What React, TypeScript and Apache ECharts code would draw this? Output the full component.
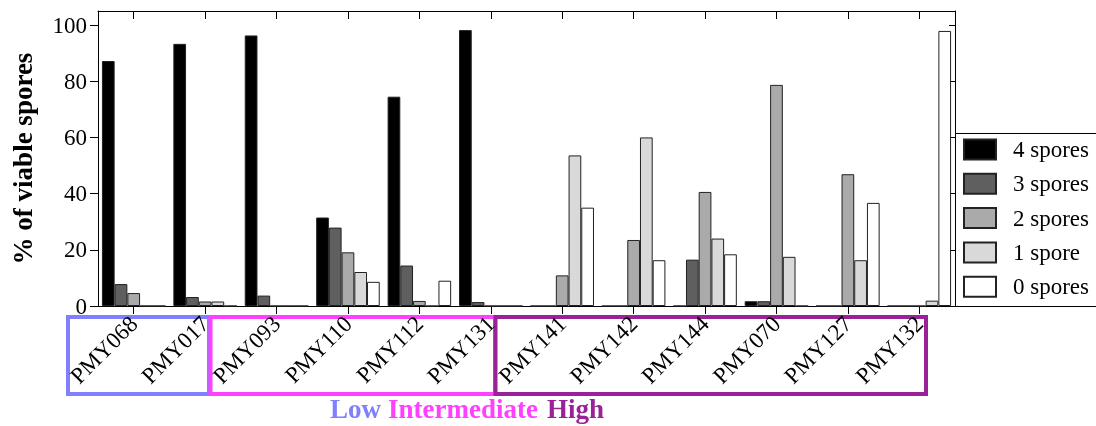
import React, { useEffect, useRef } from 'react';
import * as echarts from 'echarts';

const categories = ['PMY068', 'PMY017', 'PMY093', 'PMY110', 'PMY112', 'PMY131', 'PMY141', 'PMY142', 'PMY144', 'PMY070', 'PMY127', 'PMY132'];
const seriesNames = ['4 spores', '3 spores', '2 spores', '1 spore', '0 spores'];
const fourSpores = [87.2, 93.3, 96.3, 31.5, 74.5, 98.2, 0, 0, 0, 1.7, 0, 0];
const threeSpores = [7.8, 3.2, 3.7, 27.9, 14.4, 1.4, 0, 0, 16.5, 1.7, 0, 0];
const twoSpores = [4.6, 1.6, 0, 19.1, 1.8, 0, 10.9, 23.5, 40.6, 78.7, 46.9, 0];
const oneSpore = [0, 1.6, 0, 12.1, 0, 0, 53.6, 60.0, 24.0, 17.5, 16.3, 1.9];
const zeroSpores = [0, 0, 0, 8.6, 9.0, 0, 35.0, 16.3, 18.4, 0, 36.7, 97.9];
const yTickValues = [0, 20, 40, 60, 80, 100];
const groupLabels = ['Low', 'Intermediate', 'High'];

const seriesColors = ['#000000', '#5f5f5f', '#aaaaaa', '#d9d9d9', '#ffffff'];
const groupColors = ['#8080ff', '#ff40ff', '#992299'];

export default function App() {
  const ref = useRef<HTMLDivElement>(null);
  useEffect(() => {
    const chart = echarts.init(ref.current!, null, { renderer: 'svg' });
    const font = '"Liberation Serif", "Times New Roman", serif';
    const values = [fourSpores, threeSpores, twoSpores, oneSpore, zeroSpores];
    const axisLine = { show: true, onZero: false, lineStyle: { color: '#000', width: 1 } };
    const centerTicks = categories.map((_, i) => i + 0.5);
    chart.setOption({
      animation: false,
      grid: { left: 98, top: 11, width: 857, height: 295, containLabel: false },
      xAxis: [
        {
          type: 'category', data: categories, position: 'bottom',
          axisLine,
          axisTick: { show: true, interval: 0, alignWithLabel: true, length: 8, lineStyle: { color: '#000' } },
          axisLabel: { rotate: 45, interval: 0, fontSize: 23, fontFamily: font, color: '#000', margin: 14 },
        },
        {
          type: 'value', position: 'top', min: 0, max: categories.length,
          axisLine,
          axisTick: { show: true, inside: true, length: 8, customValues: centerTicks, lineStyle: { color: '#000' } },
          axisLabel: { show: false },
          splitLine: { show: false },
        },
      ],
      yAxis: [
        {
          type: 'value', min: 0, max: 105, position: 'left',
          axisLine,
          axisTick: { show: true, length: 8, customValues: yTickValues, lineStyle: { color: '#000' } },
          axisLabel: { fontSize: 23, fontFamily: font, color: '#000', margin: 11, customValues: yTickValues },
          splitLine: { show: false },
          name: '% of viable spores', nameLocation: 'middle', nameGap: 62,
          nameTextStyle: { fontSize: 27, fontWeight: 'bold', fontFamily: font, color: '#000' },
        },
        {
          type: 'value', min: 0, max: 105, position: 'right',
          axisLine,
          axisTick: { show: true, inside: true, length: 6, customValues: yTickValues, lineStyle: { color: '#000' } },
          axisLabel: { show: false },
          splitLine: { show: false },
        },
      ],
      legend: {
        orient: 'vertical', left: 963, top: 138, padding: 0,
        itemWidth: 32, itemHeight: 20, itemGap: 11.3, icon: 'rect',
        data: seriesNames,
        textStyle: { fontSize: 23, fontFamily: font, color: '#000', padding: [0, 0, 0, 12], lineHeight: 20 },
      },
      series: values.map((d, i) => ({
        type: 'bar', name: seriesNames[i], data: d,
        xAxisIndex: 0, yAxisIndex: 0,
        barGap: '0%', barCategoryGap: '11%',
        itemStyle: { color: seriesColors[i], borderColor: '#222', borderWidth: 1 },
      })),
      graphic: [
        { type: 'line', shape: { x1: 955, y1: 133.5, x2: 1096, y2: 133.5 }, style: { stroke: '#000', lineWidth: 1 } },
        { type: 'line', shape: { x1: 955, y1: 306.5, x2: 1096, y2: 306.5 }, style: { stroke: '#000', lineWidth: 1 } },
        { type: 'rect', shape: { x: 68, y: 317, width: 141, height: 77 }, style: { fill: 'none', stroke: groupColors[0], lineWidth: 4 } },
        { type: 'rect', shape: { x: 210.5, y: 317, width: 284.5, height: 77 }, style: { fill: 'none', stroke: groupColors[1], lineWidth: 4 } },
        { type: 'rect', shape: { x: 495.5, y: 317, width: 430.5, height: 77 }, style: { fill: 'none', stroke: groupColors[2], lineWidth: 4 } },
        { type: 'text', x: 330, y: 409, style: { text: groupLabels[0], fill: groupColors[0], font: `bold 27px ${font}`, textAlign: 'left', textVerticalAlign: 'middle' } },
        { type: 'text', x: 388, y: 409, style: { text: groupLabels[1], fill: groupColors[1], font: `bold 27px ${font}`, textAlign: 'left', textVerticalAlign: 'middle' } },
        { type: 'text', x: 547, y: 409, style: { text: groupLabels[2], fill: groupColors[2], font: `bold 27px ${font}`, textAlign: 'left', textVerticalAlign: 'middle' } },
      ],
    });
    return () => chart.dispose();
  }, []);
  return <div ref={ref} style={{ position: 'fixed', left: 0, top: 0, width: 1096, height: 426 }} />;
}
